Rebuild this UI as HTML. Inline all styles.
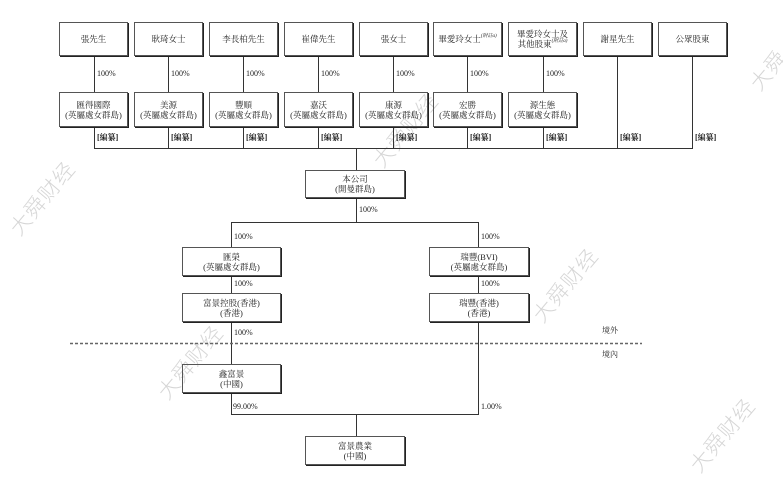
<!DOCTYPE html>
<html><head><meta charset="utf-8">
<style>
html,body{margin:0;padding:0;background:#fff;width:783px;height:478px;overflow:hidden;}
#w{position:relative;width:783px;height:478px;overflow:hidden;font-family:"Liberation Serif","Noto Serif CJK SC","Noto Sans CJK TC",serif;color:#222;}
.b{position:absolute;box-sizing:border-box;border:1px solid #555;box-shadow:1px 1px 0 #222;display:flex;align-items:center;justify-content:center;text-align:center;font-size:8.5px;line-height:10px;background:transparent;}
.t{position:absolute;font-size:8px;line-height:10px;white-space:nowrap;}
.e{position:absolute;font-size:8px;line-height:10px;white-space:nowrap;font-weight:bold;}
sup{font-size:5px;font-style:italic;vertical-align:5px;line-height:0;}
.wm{position:absolute;font-family:"Noto Sans CJK SC",sans-serif;font-weight:300;font-size:21px;color:#d6d6d6;white-space:nowrap;transform:translate(-50%,-50%) rotate(-50deg);letter-spacing:1px;}
svg{position:absolute;left:0;top:0;}
</style></head><body>
<div id="w">
<div class="wm" style="left:42px;top:198px;">大舜财经</div>
<div class="wm" style="left:190px;top:362px;">大舜财经</div>
<div class="wm" style="left:405px;top:130px;">大舜财经</div>
<div class="wm" style="left:565px;top:285px;">大舜财经</div>
<div class="wm" style="left:722px;top:435px;">大舜财经</div>
<div class="wm" style="left:768px;top:70px;">大舜</div>

<svg width="783" height="478" viewBox="0 0 783 478">
<g stroke="#333" stroke-width="1" fill="none">
<path d="M94.5 56V92M168.5 56V92M243.5 56V92M318.5 56V92M393.5 56V92M467.5 56V92M543.5 56V92"/>
<path d="M94.5 127V148M168.5 127V148M243.5 127V148M318.5 127V148M393.5 127V148M467.5 127V148M543.5 127V148"/>
<path d="M617.5 56V148M692.5 56V148"/>
<path d="M94 148.5H693"/>
<path d="M356.5 148V170M356.5 198V222"/>
<path d="M231 222.5H479"/>
<path d="M231.5 222V247M478.5 222V247M231.5 276V293M478.5 276V293"/>
<path d="M231.5 322V364M478.5 322V414M231.5 393V414"/>
<path d="M231 414.5H479"/>
<path d="M356.5 414V436"/>
</g>
<path d="M70 343.5H642" stroke="#666" stroke-width="1.5" stroke-dasharray="3 2" fill="none"/>
</svg>

<div class="b" style="left:59px;top:22px;width:69px;height:34px;"><div>張先生</div></div>
<div class="b" style="left:134px;top:22px;width:69px;height:34px;"><div>耿琦女士</div></div>
<div class="b" style="left:209px;top:22px;width:69px;height:34px;"><div>李長柏先生</div></div>
<div class="b" style="left:284px;top:22px;width:69px;height:34px;"><div>崔偉先生</div></div>
<div class="b" style="left:359px;top:22px;width:69px;height:34px;"><div>張女士</div></div>
<div class="b" style="left:433px;top:22px;width:69px;height:34px;"><div>畢愛玲女士<sup>(附註a)</sup></div></div>
<div class="b" style="left:508px;top:22px;width:69px;height:34px;"><div>畢愛玲女士及<br>其他股東<sup>(附註a)</sup></div></div>
<div class="b" style="left:583px;top:22px;width:69px;height:34px;"><div>謝星先生</div></div>
<div class="b" style="left:658px;top:22px;width:69px;height:34px;"><div>公眾股東</div></div>

<div class="t" style="left:97px;top:69px;">100%</div>
<div class="t" style="left:171px;top:69px;">100%</div>
<div class="t" style="left:246px;top:69px;">100%</div>
<div class="t" style="left:321px;top:69px;">100%</div>
<div class="t" style="left:396px;top:69px;">100%</div>
<div class="t" style="left:470px;top:69px;">100%</div>
<div class="t" style="left:546px;top:69px;">100%</div>

<div class="b" style="left:59px;top:92px;width:69px;height:35px;"><div>匯得國際<br>(英屬處女群島)</div></div>
<div class="b" style="left:134px;top:92px;width:69px;height:35px;"><div>美源<br>(英屬處女群島)</div></div>
<div class="b" style="left:209px;top:92px;width:69px;height:35px;"><div>豐順<br>(英屬處女群島)</div></div>
<div class="b" style="left:284px;top:92px;width:69px;height:35px;"><div>嘉沃<br>(英屬處女群島)</div></div>
<div class="b" style="left:359px;top:92px;width:69px;height:35px;"><div>康源<br>(英屬處女群島)</div></div>
<div class="b" style="left:433px;top:92px;width:69px;height:35px;"><div>宏勝<br>(英屬處女群島)</div></div>
<div class="b" style="left:508px;top:92px;width:69px;height:35px;"><div>源生態<br>(英屬處女群島)</div></div>

<div class="e" style="left:97px;top:133px;">[編纂]</div>
<div class="e" style="left:171px;top:133px;">[編纂]</div>
<div class="e" style="left:246px;top:133px;">[編纂]</div>
<div class="e" style="left:321px;top:133px;">[編纂]</div>
<div class="e" style="left:396px;top:133px;">[編纂]</div>
<div class="e" style="left:470px;top:133px;">[編纂]</div>
<div class="e" style="left:546px;top:133px;">[編纂]</div>
<div class="e" style="left:620px;top:133px;">[編纂]</div>
<div class="e" style="left:695px;top:133px;">[編纂]</div>

<div class="b" style="left:305px;top:170px;width:100px;height:28px;"><div>本公司<br>(開曼群島)</div></div>
<div class="t" style="left:359px;top:205px;">100%</div>
<div class="t" style="left:234px;top:232px;">100%</div>
<div class="t" style="left:481px;top:232px;">100%</div>

<div class="b" style="left:182px;top:247px;width:99px;height:29px;"><div>匯榮<br>(英屬處女群島)</div></div>
<div class="b" style="left:429px;top:247px;width:100px;height:29px;"><div>瑞豐(BVI)<br>(英屬處女群島)</div></div>
<div class="t" style="left:234px;top:279px;">100%</div>
<div class="t" style="left:481px;top:279px;">100%</div>
<div class="b" style="left:182px;top:293px;width:99px;height:29px;"><div>富景控股(香港)<br>(香港)</div></div>
<div class="b" style="left:429px;top:293px;width:100px;height:29px;"><div>瑞豐(香港)<br>(香港)</div></div>

<div class="t" style="left:234px;top:328px;">100%</div>
<div class="t" style="left:602px;top:326px;">境外</div>
<div class="t" style="left:602px;top:350px;">境內</div>

<div class="b" style="left:182px;top:364px;width:99px;height:29px;"><div>鑫富景<br>(中國)</div></div>
<div class="t" style="left:233px;top:402px;">99.00%</div>
<div class="t" style="left:481px;top:402px;">1.00%</div>
<div class="b" style="left:305px;top:436px;width:100px;height:29px;"><div>富景農業<br>(中國)</div></div>
</div>
</body></html>
